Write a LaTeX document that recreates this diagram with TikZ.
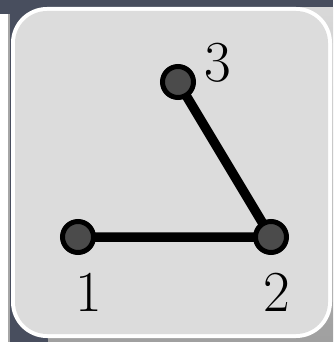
\documentclass[tikz,border=0pt]{standalone}
\pgfdeclarelayer{back}
\pgfdeclarelayer{edges}
\pgfsetlayers{back,edges,main}
\definecolor{bgdark}{RGB}{72,78,94}
\definecolor{panel}{RGB}{220,220,220}
\definecolor{vfill}{RGB}{75,75,75}
\tikzset{
  vert/.style={circle,draw=black,line width=5pt,fill=vfill,minimum size=31pt,inner sep=0pt},
  edgeline/.style={line width=9.5pt,black},
  lab/.style={font=\fontsize{58}{58}\selectfont,inner sep=0pt}
}
\begin{document}
\begin{tikzpicture}[x=1pt,y=-1pt]
\useasboundingbox (0,0) rectangle (333,342);
\begin{pgfonlayer}{back}
\fill[bgdark] (0,0) rectangle (333,342);
\fill[white] (0,14) rectangle (8,342);
\fill[gray!70] (8,14) rectangle (10,342);
\shade[top color=gray!30,bottom color=gray!75] (48,8) rectangle (333,342);
\fill[white,rounded corners=36pt] (11,7) rectangle (332,338);
\fill[panel,rounded corners=32pt] (15,11) rectangle (328,334);
\end{pgfonlayer}
\node[vert] (v1) at (78,237) {};
\node[vert] (v2) at (271,237) {};
\node[vert] (v3) at (178,82) {};
\begin{pgfonlayer}{edges}
\draw[edgeline] (v1.center) -- (v2.center) -- (v3.center);
\end{pgfonlayer}
\node[lab] (l1) at (89,292) {1};
\node[lab] (l2) at (277,292) {2};
\node[lab] (l3) at (218,63) {3};
\end{tikzpicture}
\end{document}
